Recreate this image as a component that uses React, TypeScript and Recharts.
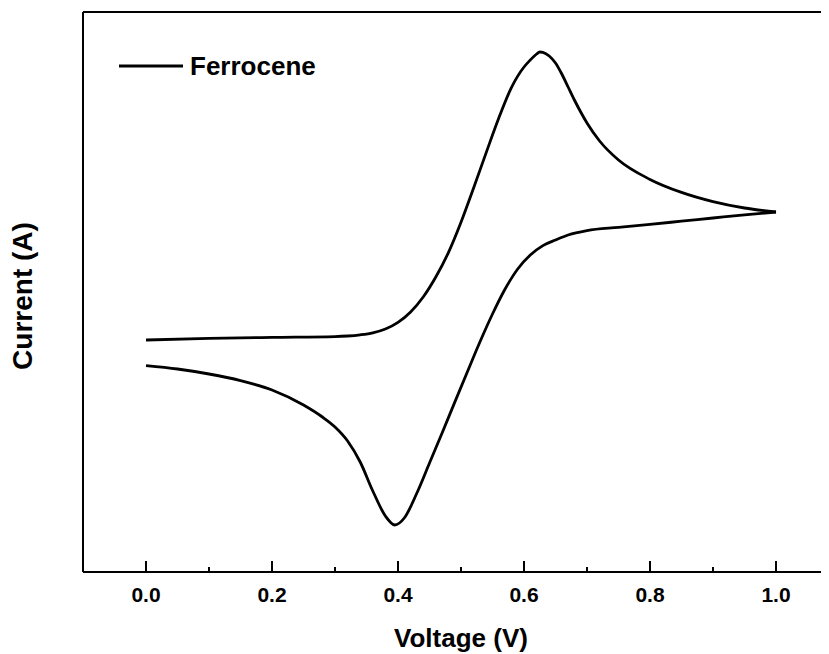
import React from 'react';
import { LineChart, Line, XAxis, YAxis, ReferenceLine, Legend, Label } from 'recharts';

// Anodic (forward) scan, 0.0 V -> 1.0 V
const forwardVoltage = [0, 0.1, 0.2, 0.3, 0.32, 0.34, 0.36, 0.38, 0.4, 0.42, 0.44, 0.46, 0.48, 0.5, 0.52, 0.54, 0.56, 0.58, 0.6, 0.61, 0.62, 0.625, 0.63, 0.64, 0.65, 0.66, 0.67, 0.68, 0.69, 0.7, 0.72, 0.75, 0.8, 0.85, 0.9, 0.95, 1.0];
const forwardCurrent = [0.0, 0.08, 0.13, 0.17, 0.2, 0.26, 0.36, 0.55, 0.88, 1.4, 2.15, 3.15, 4.37, 5.89, 7.6, 9.37, 11.1, 12.62, 13.65, 14.0, 14.3, 14.4, 14.38, 14.2, 13.85, 13.3, 12.65, 12.0, 11.4, 10.85, 9.95, 9.0, 8.03, 7.38, 6.92, 6.6, 6.4];

// Cathodic (reverse) scan, 1.0 V -> 0.0 V (stored in ascending voltage)
const reverseVoltage = [0, 0.05, 0.1, 0.15, 0.2, 0.25, 0.28, 0.3, 0.32, 0.34, 0.36, 0.38, 0.395, 0.41, 0.43, 0.45, 0.47, 0.49, 0.51, 0.53, 0.55, 0.57, 0.59, 0.61, 0.63, 0.65, 0.67, 0.7, 0.75, 0.8, 0.85, 0.9, 0.95, 1.0];
const reverseCurrent = [-1.28, -1.45, -1.7, -2.03, -2.5, -3.25, -3.85, -4.35, -5.05, -6.1, -7.55, -8.8, -9.25, -8.9, -7.65, -6.15, -4.65, -3.12, -1.6, -0.1, 1.3, 2.55, 3.55, 4.25, 4.72, 5.0, 5.25, 5.47, 5.63, 5.78, 5.94, 6.1, 6.26, 6.4];

const xTicks = [0, 0.1, 0.2, 0.3, 0.4, 0.5, 0.6, 0.7, 0.8, 0.9, 1.0];
const xDomain = [-0.1, 1.1];
const yDomain = [-11.6, 16.4];
const seriesName = 'Ferrocene';
const xTitle = 'Voltage (V)';
const yTitle = 'Current (A)';

const forwardData = forwardVoltage.map((v, i) => ({ v, i: forwardCurrent[i] }));
const reverseData = reverseVoltage.map((v, i) => ({ v, i: reverseCurrent[i] }));

const FONT = "Arial, 'Liberation Sans', Helvetica, sans-serif";

const XTick = (props: any) => {
  const { x, y, payload } = props;
  const v = payload.value as number;
  const major = Math.round(v * 10) % 2 === 0;
  return (
    <g>
      <line x1={x} x2={x} y1={y} y2={y - (major ? 11 : 5)} stroke="#000" strokeWidth={2} />
      {major && (
        <text x={x} y={y + 30} textAnchor="middle" fontFamily={FONT} fontWeight="bold" fontSize={21} fill="#000">
          {v.toFixed(1)}
        </text>
      )}
    </g>
  );
};

const LegendContent = () => (
  <svg width={260} height={40} style={{ display: 'block' }}>
    <line x1={0} x2={64} y1={14} y2={14} stroke="#000" strokeWidth={3} />
    <text x={71} y={23} fontFamily={FONT} fontWeight="bold" fontSize={26} fill="#000">{seriesName}</text>
  </svg>
);

export default function App() {
  return (
    <div style={{ width: 821, height: 646, overflow: 'hidden', position: 'relative' }}>
      <LineChart width={840} height={646} margin={{ top: 4, right: 9, bottom: 0, left: 0 }}>
        <XAxis
          type="number"
          dataKey="v"
          domain={xDomain}
          ticks={xTicks}
          allowDataOverflow
          tickLine={false}
          tickSize={0}
          tickMargin={0}
          tick={<XTick />}
          axisLine={{ stroke: '#000', strokeWidth: 2 }}
          height={82}
        >
          <Label
            content={({ viewBox }: any) => (
              <text
                x={viewBox.x + viewBox.width / 2}
                y={viewBox.y + 75}
                textAnchor="middle"
                fontFamily={FONT}
                fontWeight="bold"
                fontSize={26}
                fill="#000"
              >
                {xTitle}
              </text>
            )}
          />
        </XAxis>
        <YAxis
          type="number"
          domain={yDomain}
          allowDataOverflow
          tick={false}
          tickLine={false}
          width={75}
          axisLine={{ stroke: '#000', strokeWidth: 2 }}
        >
          <Label
            content={({ viewBox }: any) => {
              const cx = 24;
              const cy = viewBox.y + viewBox.height / 2 + 4;
              return (
                <text
                  x={cx}
                  y={cy}
                  transform={`rotate(-90 ${cx} ${cy})`}
                  textAnchor="middle"
                  fontFamily={FONT}
                  fontWeight="bold"
                  fontSize={28}
                  fill="#000"
                >
                  {yTitle}
                </text>
              );
            }}
          />
        </YAxis>
        <ReferenceLine y={yDomain[1]} stroke="#000" strokeWidth={2} />
        <ReferenceLine x={xDomain[1]} stroke="#000" strokeWidth={2} />
        <Line
          data={forwardData}
          dataKey="i"
          name={seriesName}
          type="monotone"
          stroke="#000"
          strokeWidth={2.8}
          dot={false}
          activeDot={false}
          isAnimationActive={false}
        />
        <Line
          data={reverseData}
          dataKey="i"
          name={seriesName + ' reverse'}
          type="monotone"
          stroke="#000"
          strokeWidth={2.8}
          dot={false}
          activeDot={false}
          legendType="none"
          isAnimationActive={false}
        />
        <Legend
          layout="vertical"
          align="center"
          verticalAlign="middle"
          content={<LegendContent />}
          wrapperStyle={{ position: 'absolute', left: 111, top: 44, width: 260, height: 40 }}
        />
      </LineChart>
    </div>
  );
}
